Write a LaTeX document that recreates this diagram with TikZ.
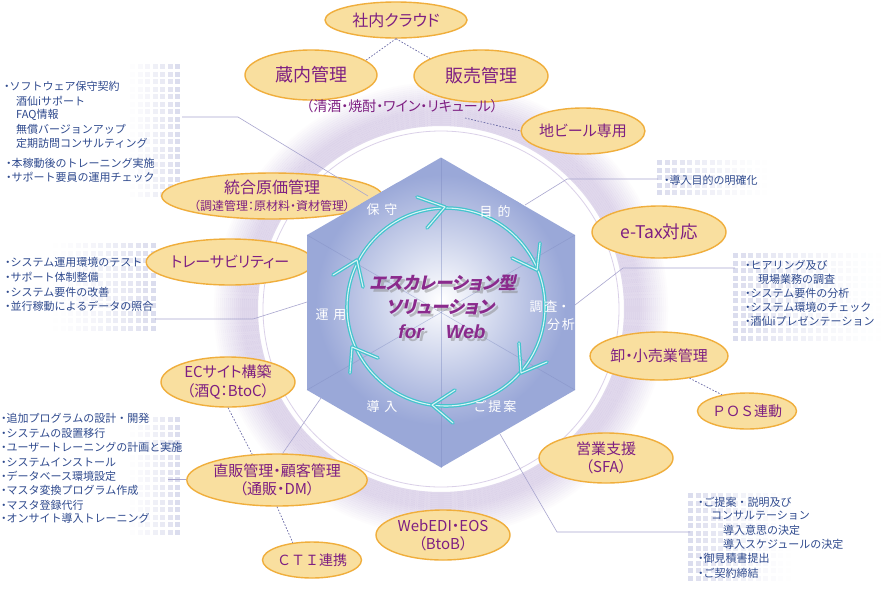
\documentclass[tikz,border=0pt]{standalone}
\usepackage{fontspec}
\setmainfont{Noto Sans CJK JP}
\newfontfamily\jp[RawFeature=+palt]{Noto Sans CJK JP}
\newfontfamily\jpn{Noto Sans CJK JP}
\newfontfamily\jpbi[RawFeature=+palt,BoldFeatures={FakeSlant=0.22}]{Noto Sans CJK JP}
\newfontfamily\lsans{Liberation Sans}
\usetikzlibrary{shapes.geometric}
\definecolor{ellfill}{HTML}{F9DF9F}
\definecolor{elldraw}{HTML}{F0AE3C}
\definecolor{elltext}{HTML}{7E1F82}
\definecolor{listtext}{HTML}{2F4A8E}
\definecolor{hexcol}{HTML}{9AA8D8}
\definecolor{hexline}{HTML}{7F8CC2}
\definecolor{cyanring}{HTML}{43C4CD}
\definecolor{connc}{HTML}{A9A6CF}
\definecolor{dashc}{HTML}{6A6AA6}
\definecolor{dotc}{HTML}{D3D5EA}
\definecolor{ringc}{HTML}{B7A3D3}
\definecolor{centertext}{HTML}{8A2A8C}
\newcommand\bul{{\jp ・}}
\newcommand\dotgrid[5]{%
  \foreach \i in {1,...,#3}{\foreach \j in {1,...,#4}{%
    \pgfmathsetmacro\op{0.8*(#5==1 ? (\i/#3)^1.5 : ((#3+1-\i)/#3)^1.5)}%
    \fill[dotc, opacity=\op] ({#1+7.5*(\i-1)},{#2+7.5*(\j-1)}) rectangle ++(5,5);}}}
\newcommand\chev[3]{\draw[cyanline] (#1) -- (#2) -- (#3); \draw[cyanin] (#1) -- (#2) -- (#3);}
\begin{document}
\begin{tikzpicture}[x=1pt,y=-1pt,
  ell/.style={ellipse, draw=elldraw, line width=1.4pt, fill=ellfill, inner sep=0pt, text=elltext, align=center, font=\jp\fontsize{15}{18.5}\selectfont},
  listtxt/.style={anchor=west, inner sep=0pt, text=listtext, font=\jpn\fontsize{11}{13}\selectfont},
  hexlbl/.style={text=white, inner sep=0pt, font=\jpn\fontsize{13}{15}\selectfont},
  conn/.style={draw=connc, line width=0.6pt},
  dconn/.style={draw=dashc, line width=0.7pt, dash pattern=on 1.6pt off 1.6pt},
  ctext/.style={inner sep=0pt, text=centertext, font=\jpbi\bfseries\fontsize{17.5}{20}\selectfont},
  cshadow/.style={ctext, text=black!50, opacity=.45},
  cyanline/.style={draw=cyanring, line width=3.6pt, line cap=round, line join=round},
  cyanin/.style={draw=white, line width=1.1pt, opacity=.8, line cap=round, line join=round},
]
\path[use as bounding box] (0,0) rectangle (885,606);
\fill[white] (0,0) rectangle (885,606);
% background ring
\coordinate (ringC) at (441,309);
\draw[ringc, line width=0.8pt, opacity=.5] (ringC) circle[radius=178pt];
\foreach \k in {0,...,21}{%
  \pgfmathsetmacro\rr{184+2*\k}%
  \pgfmathsetmacro\oo{\k<7 ? 0.42 : 0.42*(1-(\k-7)/15)}%
  \draw[ringc, line width=2.05pt, opacity=\oo] (ringC) circle[radius=\rr pt];}
% dot grids
\dotgrid{130}{64}{7}{18}{1}
\dotgrid{53}{243}{14}{12}{1}
\dotgrid{130}{417}{7}{16}{1}
\dotgrid{657}{160}{15}{5}{0}
\dotgrid{733}{253}{20}{12}{0}
\dotgrid{688}{493}{14}{12}{0}
% hexagon corners
\coordinate (hT) at (441,157.5);
\coordinate (hUR) at (575,235);
\coordinate (hLR) at (575,390);
\coordinate (hB) at (441,467.5);
\coordinate (hLL) at (307,390);
\coordinate (hUL) at (307,235);
\coordinate (hC) at (441,312.5);
% ellipses
\node[ell, minimum width=142pt, minimum height=36pt] (shanai) at (396,20) {\fontsize{16}{18}\selectfont 社内クラウド};
\node[ell, minimum width=132pt, minimum height=50pt] (kura) at (311,75) {\fontsize{18}{20}\selectfont 蔵内管理};
\node[ell, minimum width=134pt, minimum height=52pt] (hanbai) at (481,76) {\fontsize{18}{20}\selectfont 販売管理};
\node[inner sep=0pt, text=elltext, font=\jp\fontsize{14}{16}\selectfont] (sake) at (402,106) {（清酒・焼酎・ワイン・リキュール）};
\node[ell, minimum width=120pt, minimum height=46pt] (jibeer) at (583,131) {地ビール専用};
\node[ell, minimum width=146pt, minimum height=46pt] (genka) at (272,196) {\fontsize{16}{16}\selectfont 統合原価管理\\[-1pt]\fontsize{12}{13}\selectfont （調達管理：原材料・資材管理）};
\node[ell, minimum width=134pt, minimum height=46pt] (trace) at (230,262) {トレーサビリティー};
\node[ell, minimum width=134pt, minimum height=52pt] (etax) at (659,232) {\fontsize{17.5}{20}\selectfont e-Tax対応};
\node[ell, minimum width=134pt, minimum height=50pt] (ec) at (228,382) {ECサイト構築\\（酒Q：BtoC）};
\node[ell, minimum width=134pt, minimum height=52pt] (chokuhan) at (277,480) {直販管理・顧客管理\\（通販・DM）};
\node[ell, minimum width=96pt, minimum height=36pt, font=\jpn\fontsize{14}{16}\selectfont] (cti) at (312,560) {ＣＴＩ連携};
\node[ell, minimum width=134pt, minimum height=50pt] (webedi) at (443,535) {WebEDI・EOS\\（BtoB）};
\node[ell, minimum width=134pt, minimum height=50pt] (eigyo) at (606,458) {営業支援\\（SFA）};
\node[ell, minimum width=134pt, minimum height=48pt] (oroshi) at (659,356) {卸・小売業管理};
\node[ell, minimum width=96pt, minimum height=36pt, font=\jpn\fontsize{14}{16}\selectfont] (pos) at (747,411) {ＰＯＳ連動};
% list connectors
\coordinate (g1) at (182,117); \coordinate (b1) at (238,117); \coordinate (e1) at (368,196);
\coordinate (g2) at (155,319); \coordinate (b2) at (253,319); \coordinate (e2) at (307,302);
\coordinate (g3) at (168,479); \coordinate (e3) at (321,398);
\coordinate (g4) at (658,179); \coordinate (b4) at (567,179); \coordinate (e4) at (525,205);
\coordinate (g5) at (735,268); \coordinate (b5) at (623,268); \coordinate (e5) at (575,305);
\coordinate (g6) at (690,532); \coordinate (b6) at (557,532); \coordinate (e6) at (500,434);
\coordinate (sakeend) at (465,118);
\draw[conn] (g1) -- (b1) -- (e1);
\draw[conn] (g2) -- (b2) -- (e2);
\draw[conn] (g3) -- (g3 -| chokuhan.west);
\draw[conn] (chokuhan.78) -- (e3);
\draw[conn] (g4) -- (b4) -- (e4);
\draw[conn] (g5) -- (b5) -- (e5);
\draw[conn] (g6) -- (b6) -- (e6);
\draw[dconn] (shanai.south) -- (kura.15);
\draw[dconn] (shanai.south) -- (hanbai.161);
\draw[dconn] (sakeend) -- (jibeer.west);
\draw[dconn] (oroshi.-36) -- (pos.147);
\draw[dconn] (ec.south) -- (chokuhan.134);
\draw[dconn] (chokuhan.south) -- (cti.138);
% hexagon body
\fill[hexcol] (hT) -- (hUR) -- (hLR) -- (hB) -- (hLL) -- (hUL) -- cycle;
\begin{scope}
\clip (hT) -- (hUR) -- (hLR) -- (hB) -- (hLL) -- (hUL) -- cycle;
\shade[inner color=white, outer color=hexcol] (441,300) circle[radius=125pt];
\end{scope}
\foreach \v in {hT,hUR,hLR,hB,hLL,hUL}{\draw[hexline, line width=.6pt, opacity=.45] (hC) -- (\v);}
% cyan cycle
\coordinate (cyc) at (446,307);
\draw[cyanline] (cyc) circle[radius=99pt];
\draw[cyanin] (cyc) circle[radius=99pt];
\chev{417,197}{445,207}{427,228}
\chev{540,243}{537,270}{512,258}
\chev{519,343}{521,373}{547,362}
\chev{455,390}{432,405}{453,423}
\chev{378,358}{352,347}{350,373}
\chev{333,275}{357,260}{363,287}
% hex labels
\node[hexlbl] (lbHoshu) at (382,210) {保\kern5pt 守};
\node[hexlbl] (lbMokuteki) at (495,211) {目\kern5pt 的};
\node[hexlbl] (lbChosa) at (550,307) {調\kern2pt 査・};
\node[hexlbl] (lbBunseki) at (561,325) {分\kern2pt 析};
\node[hexlbl] (lbTeian) at (495,407) {ご\kern2pt 提\kern2pt 案};
\node[hexlbl] (lbDonyu) at (382,407) {導\kern5pt 入};
\node[hexlbl] (lbUnyo) at (331,315) {運\kern5pt 用};
% center text
\node[cshadow] (ct1s) at (446,286) {エスカレーション型};
\node[ctext] (ct1) at (443,283) {エスカレーション型};
\node[cshadow] (ct2s) at (443,310) {ソリューション};
\node[ctext] (ct2) at (440,307) {ソリューション};
\node[cshadow, font=\lsans\bfseries\itshape\fontsize{19}{21}\selectfont] (ct3s) at (445,335) {for\hspace{22pt}Web};
\node[ctext, font=\lsans\bfseries\itshape\fontsize{19}{21}\selectfont] (ct3) at (442,332) {for\hspace{22pt}Web};
% lists
\node[listtxt] (la1) at (4,86) {\bul ソフトウェア保守契約};
\node[listtxt] (la2) at (16,101) {酒仙iサポート};
\node[listtxt] (la3) at (16,115) {FAQ情報};
\node[listtxt] (la4) at (16,129) {無償バージョンアップ};
\node[listtxt] (la5) at (16,143) {定期訪問コンサルティング};
\node[listtxt] (la6) at (6,163) {\bul 本稼動後のトレーニング実施};
\node[listtxt] (la7) at (6,177) {\bul サポート要員の運用チェック};
\node[listtxt] (lb1) at (5,262) {\bul システム運用環境のテスト};
\node[listtxt] (lb2) at (5,277) {\bul サポート体制整備};
\node[listtxt] (lb3) at (5,292) {\bul システム要件の改善};
\node[listtxt] (lb4) at (5,306.5) {\bul 並行稼動によるデータの照合};
\node[listtxt] (lc1) at (1,418) {\bul 追加プログラムの設計・開発};
\node[listtxt] (lc2) at (1,433) {\bul システムの設置移行};
\node[listtxt] (lc3) at (1,447) {\bul ユーザートレーニングの計画と実施};
\node[listtxt] (lc4) at (1,462) {\bul システムインストール};
\node[listtxt] (lc5) at (1,476) {\bul データベース環境設定};
\node[listtxt] (lc6) at (1,490) {\bul マスタ変換プログラム作成};
\node[listtxt] (lc7) at (1,505) {\bul マスタ登録代行};
\node[listtxt] (lc8) at (1,518) {\bul オンサイト導入トレーニング};
\node[listtxt] (ld1) at (664,180) {\bul 導入目的の明確化};
\node[listtxt] (le1) at (745,265) {\bul ヒアリング及び};
\node[listtxt] (le2) at (758,279) {現場業務の調査};
\node[listtxt] (le3) at (745,293) {\bul システム要件の分析};
\node[listtxt] (le4) at (745,307) {\bul システム環境のチェック};
\node[listtxt] (le5) at (745,321) {\bul 酒仙iプレゼンテーション};
\node[listtxt] (lf1) at (698,502) {\bul ご提案・説明及び};
\node[listtxt] (lf2) at (711,516) {コンサルテーション};
\node[listtxt] (lf3) at (723,530) {導入意思の決定};
\node[listtxt] (lf4) at (723,544) {導入スケジュールの決定};
\node[listtxt] (lf5) at (698,558) {\bul 御見積書提出};
\node[listtxt] (lf6) at (698,573) {\bul ご契約締結};
\end{tikzpicture}
\end{document}
